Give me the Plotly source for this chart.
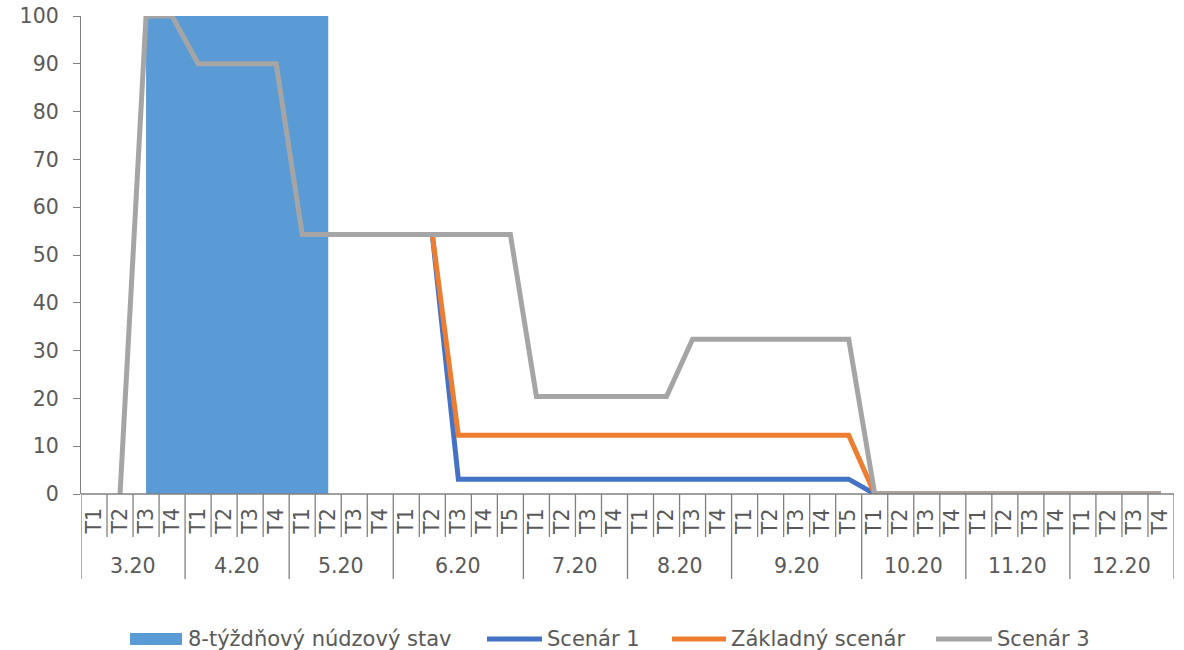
import plotly.graph_objects as go

# Weekly categories grouped by month
months = ["3.20", "4.20", "5.20", "6.20", "7.20", "8.20", "9.20", "10.20", "11.20", "12.20"]
weeks = [
    ["T1", "T2", "T3", "T4"],
    ["T1", "T2", "T3", "T4"],
    ["T1", "T2", "T3", "T4"],
    ["T1", "T2", "T3", "T4", "T5"],
    ["T1", "T2", "T3", "T4"],
    ["T1", "T2", "T3", "T4"],
    ["T1", "T2", "T3", "T4", "T5"],
    ["T1", "T2", "T3", "T4"],
    ["T1", "T2", "T3", "T4"],
    ["T1", "T2", "T3", "T4"],
]

N = None
emergency = [N, N, 100, 100, 100, 100, 100, 100, 100, 100] + [N] * 32
scenario_1 = [N] * 13 + [54.3] + [3.1] * 16 + [0] * 12
baseline = [N] * 13 + [54.3] + [12.3] * 16 + [0] * 12
scenario_3 = ([N, 0, 100, 100, 90, 90, 90, 90] + [54.3] * 9 + [20.4] * 6
              + [32.4] * 7 + [0] * 12)

series_names = ["8-týždňový núdzový stav", "Scenár 1", "Základný scenár", "Scenár 3"]
colors = ["#5B9BD5", "#4472C4", "#ED7D31", "#A5A5A5"]

FONT = "DejaVu Sans"
FS = 20.5
FS_LEG = 21
TXT = "#595959"
AX = "#808080"

W, H = 1184, 650
L, R, T, B = 81, 10, 16, 156
PW, PH = W - L - R, H - T - B

def px_x(p):
    return (p - L) / PW

def px_y(p):
    return (H - B - p) / PH

n = sum(len(w) for w in weeks)
xs = list(range(n))

fig = go.Figure()
fig.add_trace(go.Scatter(x=xs, y=emergency, mode="lines", fill="tozeroy",
                         line=dict(width=0, color=colors[0]), fillcolor=colors[0],
                         name=series_names[0], showlegend=False, hoverinfo="skip"))
for vals, nm, c in zip([scenario_1, baseline, scenario_3], series_names[1:], colors[1:]):
    fig.add_trace(go.Scatter(x=xs, y=vals, mode="lines", name=nm, showlegend=False,
                             line=dict(color=c, width=5)))

shapes = []
annotations = []

# x-axis line
shapes.append(dict(type="line", xref="paper", yref="paper", x0=0, x1=1, y0=0, y1=0,
                   line=dict(color=AX, width=1.3)))

# week labels, month labels and category dividers
idx = 0
y_week = px_y(537)
y_month = px_y(579)
for m, wk in zip(months, weeks):
    start = idx
    shapes.append(dict(type="line", xref="x", yref="paper", x0=start - 0.5, x1=start - 0.5,
                       y0=0, y1=y_month, line=dict(color=AX, width=1.3)))
    for j, w in enumerate(wk):
        if j > 0:
            shapes.append(dict(type="line", xref="x", yref="paper", x0=idx - 0.5, x1=idx - 0.5,
                               y0=0, y1=y_week, line=dict(color=AX, width=1.3)))
        annotations.append(dict(x=idx, y=px_y(537), xref="x", yref="paper", text=w,
                                showarrow=False, textangle=-90, yanchor="bottom",
                                xshift=-1,
                                font=dict(family=FONT, size=FS, color=TXT)))
        idx += 1
    annotations.append(dict(x=(start + idx - 1) / 2, y=px_y(566), xref="x", yref="paper",
                            text=m, showarrow=False, yanchor="middle",
                            font=dict(family=FONT, size=FS, color=TXT)))
shapes.append(dict(type="line", xref="x", yref="paper", x0=idx - 0.5, x1=idx - 0.5,
                   y0=0, y1=y_month, line=dict(color=AX, width=1.3)))

# legend
legend_items = [(130, 182, 186, "box"), (487, 542, 545, "line"),
                (672, 726, 729, "line"), (936, 992, 995, "line")]
ly = 639
for (x0, x1, tx, kind), nm, c in zip(legend_items, series_names, colors):
    if kind == "box":
        shapes.append(dict(type="rect", xref="paper", yref="paper",
                           x0=px_x(x0), x1=px_x(x1), y0=px_y(ly + 6), y1=px_y(ly - 6),
                           fillcolor=c, line=dict(width=0)))
    else:
        shapes.append(dict(type="line", xref="paper", yref="paper",
                           x0=px_x(x0), x1=px_x(x1), y0=px_y(ly), y1=px_y(ly),
                           line=dict(color=c, width=5)))
    annotations.append(dict(x=px_x(tx), y=px_y(ly), xref="paper", yref="paper", text=nm,
                            showarrow=False, xanchor="left", yanchor="middle",
                            font=dict(family=FONT, size=FS_LEG, color=TXT)))

fig.update_layout(
    width=W, height=H,
    margin=dict(l=L, r=R, t=T, b=B, autoexpand=False),
    paper_bgcolor="white", plot_bgcolor="white",
    shapes=shapes, annotations=annotations,
    showlegend=False,
    xaxis=dict(range=[-0.5, n - 0.5], showticklabels=False, showgrid=False,
               zeroline=False, showline=False, ticks=""),
    yaxis=dict(range=[0, 100], tickvals=list(range(0, 101, 10)), showgrid=False,
               zeroline=False, showline=True, linecolor=AX, linewidth=1.3,
               ticks="outside", ticklen=7, tickcolor=AX, tickwidth=1.3,
               ticklabelstandoff=10,
               tickfont=dict(family=FONT, size=FS, color=TXT)),
)

fig.write_html("out.html")
